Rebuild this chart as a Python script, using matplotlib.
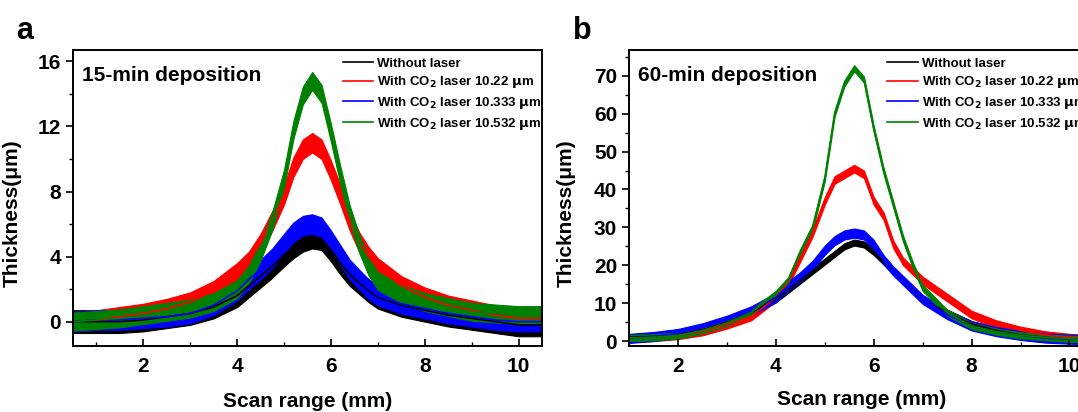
import matplotlib
matplotlib.use('Agg')
import matplotlib.pyplot as plt
from matplotlib.ticker import MultipleLocator

plt.rcParams['font.family'] = ['Liberation Sans', 'DejaVu Sans']
plt.rcParams['font.weight'] = 'bold'
plt.rcParams['mathtext.default'] = 'bf'

# Panel a (15 min) - centre values
x_a = [0.5, 1, 1.5, 2, 2.5, 3, 3.5, 4, 4.25, 4.5, 4.75, 5, 5.2, 5.4, 5.6, 5.8,
       6, 6.2, 6.4, 6.6, 6.8, 7, 7.5, 8, 8.5, 9, 9.5, 10, 10.5]
black_a = [0, 0, 0, 0.1, 0.3, 0.5, 0.9, 1.6, 2.2, 2.8, 3.4, 4.1, 4.6, 5.0, 5.2, 5.1,
           4.4, 3.6, 2.9, 2.4, 1.9, 1.5, 1.0, 0.7, 0.4, 0.2, 0.0, -0.2, -0.2]
red_a = [0, 0.1, 0.3, 0.5, 0.8, 1.2, 1.9, 3.0, 3.7, 4.8, 6.2, 7.8, 9.5, 10.6, 11.0, 10.6,
         9.3, 7.8, 6.2, 4.9, 4.0, 3.3, 2.2, 1.5, 1.0, 0.7, 0.4, 0.2, 0.2]
blue_a = [0, 0.1, 0.1, 0.2, 0.3, 0.5, 1.0, 1.9, 2.6, 3.2, 3.9, 4.8, 5.5, 5.9, 6.0, 5.8,
          5.0, 4.1, 3.2, 2.6, 2.0, 1.6, 1.1, 0.8, 0.5, 0.3, 0.1, 0.0, 0.0]
green_a = [0, 0.1, 0.2, 0.4, 0.6, 0.8, 1.2, 2.0, 2.9, 4.3, 6.2, 8.8, 11.8, 13.9, 14.8, 14.0,
           11.6, 9.0, 6.6, 4.8, 3.4, 2.5, 1.7, 1.2, 0.9, 0.6, 0.5, 0.4, 0.4]
noise_a = [0.7, 0.6, 0.6, 0.55]   # half-width of the noise band per series

# Panel b (60 min)
x_b = [1, 1.5, 2, 2.5, 3, 3.5, 4, 4.25, 4.5, 4.75, 5, 5.2, 5.4, 5.6, 5.8,
       6, 6.2, 6.4, 6.6, 6.8, 7, 7.5, 8, 8.5, 9, 9.5, 10, 10.5]
black_b = [1.0, 1.2, 1.8, 3.0, 5.0, 7.5, 11.0, 13.5, 16.0, 18.5, 21.0, 23.0, 25.0, 26.0, 25.5,
           23.5, 21.0, 18.5, 16.0, 13.5, 11.0, 7.5, 4.5, 2.8, 1.6, 1.0, 0.6, 0.4]
red_b = [0.8, 1.0, 1.5, 2.5, 4.3, 6.5, 11.5, 15.5, 22.0, 28.5, 37.0, 42.5, 44.0, 45.5, 44.0,
         37.0, 33.0, 25.5, 21.0, 18.5, 16.0, 11.5, 7.0, 4.5, 2.8, 1.6, 0.9, 0.5]
blue_b = [0.7, 1.2, 2.0, 3.5, 5.5, 8.0, 11.5, 14.5, 17.0, 20.0, 24.0, 26.5, 28.0, 28.5, 28.0,
          25.5, 21.5, 18.5, 16.0, 13.5, 11.0, 7.0, 4.0, 2.5, 1.5, 0.8, 0.5, 0.4]
green_b = [0.8, 1.0, 1.5, 2.8, 4.8, 7.5, 12.5, 16.0, 23.5, 30.0, 43.0, 60.0, 68.0, 72.0, 69.0,
           56.0, 45.0, 36.0, 27.0, 20.0, 14.0, 7.5, 4.0, 2.5, 1.5, 1.0, 0.6, 0.5]
noise_b = [0.8, 1.0, 1.2, 0.8]

labels = ['Without laser', r'With CO$_2$ laser 10.22 $\mu$m',
          r'With CO$_2$ laser 10.333 $\mu$m', r'With CO$_2$ laser 10.532 $\mu$m']
colors = ['black', '#ff0000', '#0000ff', '#008000']


def draw_panel(ax, x, series, noise, title):
    for y, amp, c, lab in zip(series, noise, colors, labels):
        lo = [v - amp for v in y]
        hi = [v + amp for v in y]
        ax.fill_between(x, lo, hi, color=c, lw=0.8)
        ax.plot(x, y, color=c, lw=1.2, label=lab)
    ax.text(0.02, 0.915, title, transform=ax.transAxes, fontsize=15,
            fontweight='bold', va='center')
    ax.set_xlabel('Scan range (mm)', fontsize=15, fontweight='bold')
    ax.set_ylabel('Thickness(μm)', fontsize=15, fontweight='bold')
    ax.xaxis.set_major_locator(MultipleLocator(2))
    ax.xaxis.set_minor_locator(MultipleLocator(1))
    ax.tick_params(axis='x', which='both', direction='in', labelsize=15, pad=8)
    ax.tick_params(axis='y', which='both', direction='out', labelsize=15)
    ax.tick_params(which='major', length=5, width=1.2)
    ax.tick_params(which='minor', length=3, width=1.0)
    for s in ax.spines.values():
        s.set_linewidth(1.4)
    for t in ax.get_xticklabels() + ax.get_yticklabels():
        t.set_fontweight('bold')


fig = plt.figure(figsize=(10.78, 4.12), dpi=100)
ax1 = fig.add_axes([0.0677, 0.1602, 0.4351, 0.7184])
ax2 = fig.add_axes([0.5835, 0.1602, 0.4313, 0.7184])

draw_panel(ax1, x_a, [black_a, red_a, blue_a, green_a], noise_a, '15-min deposition')
ax1.set_xlim(0.5, 10.5)
ax1.set_ylim(-1.5, 16.7)
ax1.yaxis.set_major_locator(MultipleLocator(4))
ax1.yaxis.set_minor_locator(MultipleLocator(2))
ax1.xaxis.set_label_coords(0.5, -0.155)
ax1.yaxis.set_label_coords(-0.11, 0.45)

draw_panel(ax2, x_b, [black_b, red_b, blue_b, green_b], noise_b, '60-min deposition')
ax2.set_xlim(1, 10.5)
ax2.set_ylim(-1.3, 76.8)
ax2.yaxis.set_major_locator(MultipleLocator(10))
ax2.yaxis.set_minor_locator(MultipleLocator(5))
ax2.xaxis.set_label_coords(0.5, -0.15)
ax2.yaxis.set_label_coords(-0.115, 0.45)

for ax, bx in [(ax1, 0.55), (ax2, 0.53)]:
    ax.legend(loc='upper left', bbox_to_anchor=(bx, 1.015), frameon=False,
              handlelength=2.3, handletextpad=0.3, labelspacing=0.35,
              prop={'size': 9.5, 'weight': 'bold'})

fig.text(25 / 1078, 1 - 31 / 412, 'a', fontsize=22, fontweight='bold', va='center', ha='center')
fig.text(582 / 1078, 1 - 31 / 412, 'b', fontsize=22, fontweight='bold', va='center', ha='center')

plt.savefig('out.png', dpi=100)
